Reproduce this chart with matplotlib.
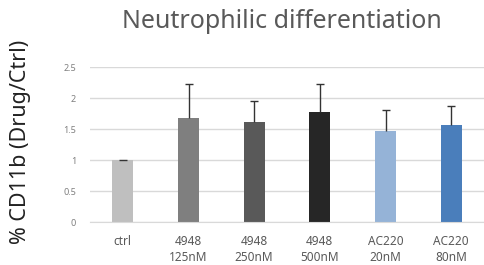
import matplotlib.pyplot as plt

# Data
labels = ["ctrl", "4948\n125nM", "4948\n250nM", "4948\n500nM", "AC220\n20nM", "AC220\n80nM"]
values = [1.0, 1.68, 1.61, 1.77, 1.47, 1.56]
errors = [0.0, 0.55, 0.34, 0.46, 0.34, 0.32]
colors = ["#bfbfbf", "#7f7f7f", "#595959", "#262626", "#95b3d7", "#4a7ebb"]
yticks = [0, 0.5, 1, 1.5, 2, 2.5]
ytick_labels = ["0", "0.5", "1", "1.5", "2", "2.5"]

plt.rcParams["font.family"] = ["Noto Sans", "DejaVu Sans"]

fig = plt.figure(figsize=(4.84, 2.65), dpi=100)
ax = fig.add_axes([0.186, 0.161, 0.814, 0.586])

x = list(range(len(labels)))
tops = [v + e for v, e in zip(values, errors)]
ax.bar(x, values, width=0.32, color=colors, zorder=2)
# plus-only error bars (Excel style): stem + top cap
ax.vlines(x, values, tops, color="#333333", linewidth=1, zorder=3)
ax.plot(x, tops, linestyle="none", marker="_", markersize=6,
        markeredgewidth=1, color="#333333", zorder=3)

ax.set_xlim(-0.5, 5.5)
ax.set_ylim(0, 2.5)
ax.set_yticks(yticks)
ax.set_yticklabels(ytick_labels)
ax.set_xticks(x)
ax.set_xticklabels(labels, linespacing=1.3)
ax.tick_params(axis="y", length=0, labelsize=6.5, labelcolor="#7f7f7f", pad=10)
ax.tick_params(axis="x", length=0, labelsize=8.5, labelcolor="#595959", pad=9)
ax.yaxis.grid(True, color="#d9d9d9", linewidth=1, zorder=0)
ax.set_axisbelow(True)
for s in ["top", "right", "left"]:
    ax.spines[s].set_visible(False)
ax.spines["bottom"].set_color("#d9d9d9")

ax.set_ylabel("% CD11b (Drug/Ctrl)", fontsize=15.5, color="#222222")
ax.yaxis.set_label_coords(-0.15, 0.52)
fig.text(0.583, 0.92, "Neutrophilic differentiation", fontsize=18,
         color="#595959", ha="center", va="center")

fig.savefig("out.png", dpi=100)
